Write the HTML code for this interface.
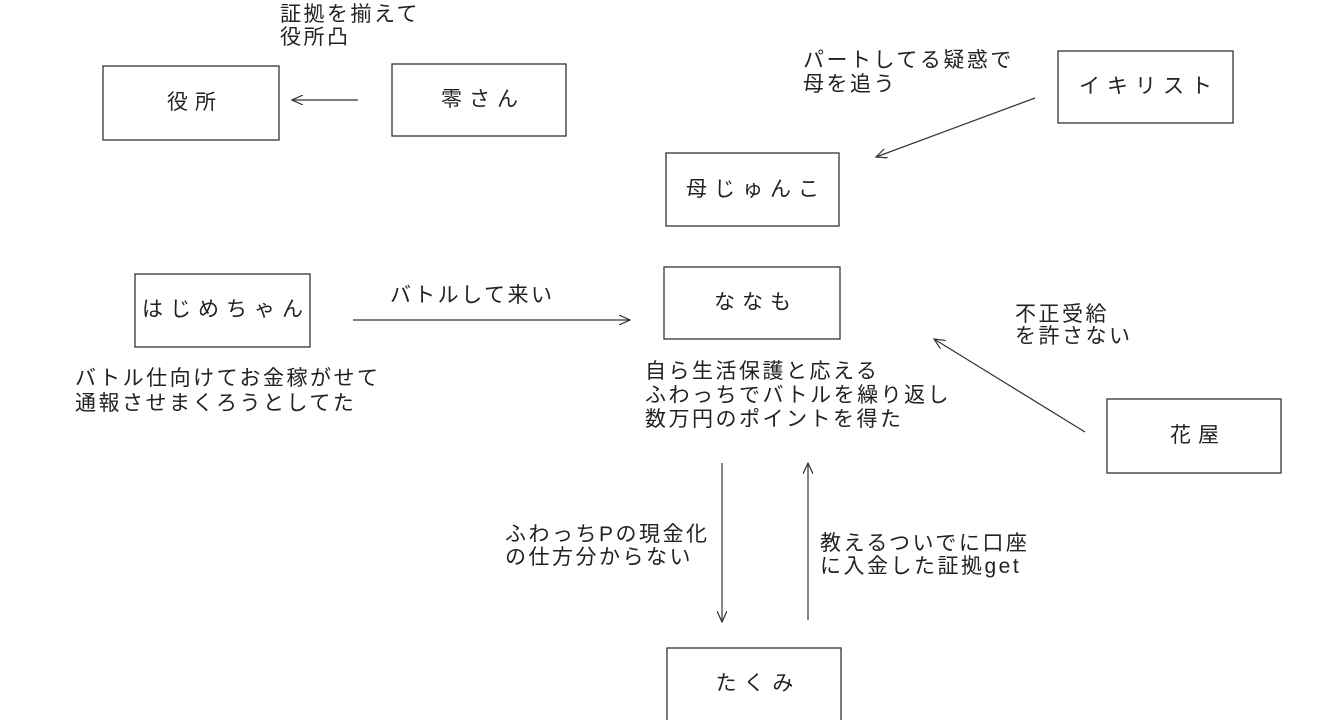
<!DOCTYPE html>
<html><head><meta charset="utf-8"><style>
html,body{margin:0;padding:0;background:#fff;}
svg{display:block;}
text{font-family:"Liberation Sans","Noto Sans CJK JP",sans-serif;font-size:21px;fill:#222;letter-spacing:2.5px;}
.b{letter-spacing:7px;}
rect{fill:#fff;stroke:#333;stroke-width:1.3;}
line{stroke:#333;stroke-width:1.2;}
</style></head><body>
<svg width="1339" height="720" viewBox="0 0 1339 720">
<defs><marker id="a" markerWidth="12" markerHeight="10" refX="11" refY="5" orient="auto" markerUnits="userSpaceOnUse"><path d="M0,0 L11,5 L0,10" fill="none" stroke="#333" stroke-width="1.2"/></marker></defs>
<rect x="103" y="66" width="176" height="74"/>
<rect x="392" y="64" width="174" height="72"/>
<rect x="1058" y="51" width="175" height="72"/>
<rect x="666" y="153" width="173" height="73"/>
<rect x="664" y="267" width="176" height="72"/>
<rect x="135" y="274" width="175" height="73"/>
<rect x="1107" y="399" width="174" height="74"/>
<rect x="667" y="648" width="174" height="74"/>
<text class="b" x="195" y="109" text-anchor="middle">役所</text>
<text class="b" x="483" y="106" text-anchor="middle">零さん</text>
<text class="b" x="1149" y="93" text-anchor="middle">イキリスト</text>
<text class="b" x="756" y="196" text-anchor="middle">母じゅんこ</text>
<text class="b" x="756" y="309" text-anchor="middle">ななも</text>
<text class="b" x="226" y="316" text-anchor="middle">はじめちゃん</text>
<text class="b" x="1198" y="442" text-anchor="middle">花屋</text>
<text class="b" x="758" y="690" text-anchor="middle">たくみ</text>
<line x1="358" y1="100" x2="292" y2="100" marker-end="url(#a)"/>
<line x1="1035" y1="98" x2="876" y2="157" marker-end="url(#a)"/>
<line x1="353" y1="320" x2="630" y2="320" marker-end="url(#a)"/>
<line x1="1085" y1="432" x2="934" y2="339" marker-end="url(#a)"/>
<line x1="722" y1="463" x2="722" y2="622" marker-end="url(#a)"/>
<line x1="808" y1="620" x2="808" y2="463" marker-end="url(#a)"/>
<text x="280" y="21">証拠を揃えて</text>
<text x="280" y="44">役所凸</text>
<text x="803" y="67">パートしてる疑惑で</text>
<text x="803" y="91">母を追う</text>
<text x="390" y="302">バトルして来い</text>
<text x="1015" y="321">不正受給</text>
<text x="1015" y="343">を許さない</text>
<text x="75" y="385">バトル仕向けてお金稼がせて</text>
<text x="75" y="410">通報させまくろうとしてた</text>
<text x="645" y="378">自ら生活保護と応える</text>
<text x="645" y="402">ふわっちでバトルを繰り返し</text>
<text x="645" y="426">数万円のポイントを得た</text>
<text x="505" y="541">ふわっちPの現金化</text>
<text x="505" y="564">の仕方分からない</text>
<text x="820" y="550">教えるついでに口座</text>
<text x="820" y="573">に入金した証拠get</text>
</svg>
</body></html>
